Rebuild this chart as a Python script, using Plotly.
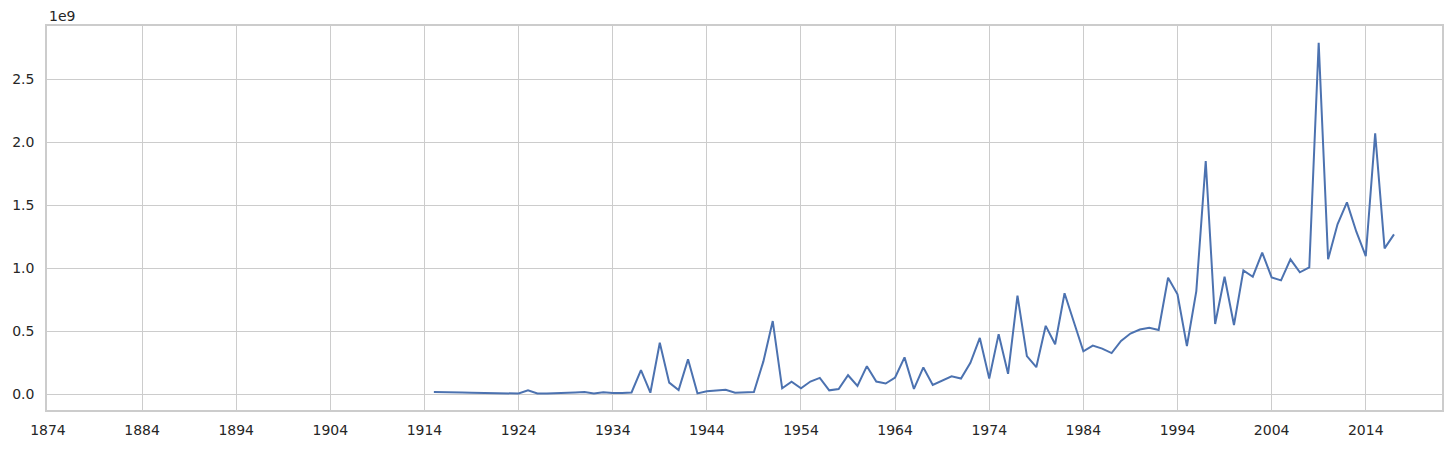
import plotly.graph_objects as go

years = list(range(1915, 2018))
values_e9 = [
    0.015, 0.012, 0.012, 0.011, 0.009, 0.007, 0.005, 0.003, 0.003, 0.004,  # 1915-1924
    0.030, 0.004, 0.004, 0.005, 0.008, 0.012, 0.015, 0.005, 0.013, 0.007,  # 1925-1934
    0.008, 0.012, 0.190, 0.010, 0.407, 0.090, 0.032, 0.275, 0.005, 0.022,  # 1935-1944
    0.028, 0.033, 0.010, 0.012, 0.015, 0.257, 0.579, 0.045, 0.098, 0.045,  # 1945-1954
    0.099, 0.128, 0.029, 0.040, 0.149, 0.064, 0.221, 0.099, 0.083, 0.131,  # 1955-1964
    0.291, 0.040, 0.211, 0.072, 0.104, 0.141, 0.123, 0.248, 0.445, 0.123,  # 1965-1974
    0.475, 0.160, 0.781, 0.301, 0.213, 0.541, 0.395, 0.800, 0.570, 0.339,  # 1975-1984
    0.384, 0.360, 0.325, 0.421, 0.480, 0.512, 0.526, 0.508, 0.923, 0.791,  # 1985-1994
    0.381, 0.817, 1.849, 0.556, 0.931, 0.548, 0.981, 0.931, 1.122, 0.926,  # 1995-2004
    0.902, 1.069, 0.966, 1.005, 2.788, 1.069, 1.347, 1.521, 1.288, 1.095,  # 2005-2014
    2.069, 1.156, 1.267,                                                   # 2015-2017
]
values = [v * 1e9 for v in values_e9]

x_ticks = list(range(1874, 2015, 10))
y_tick_vals = [0, 0.5e9, 1.0e9, 1.5e9, 2.0e9, 2.5e9]
y_tick_text = ["0.0", "0.5", "1.0", "1.5", "2.0", "2.5"]

fig = go.Figure()
fig.add_trace(go.Scatter(
    x=years, y=values, mode="lines",
    line=dict(color="#4c72b0", width=2),
    hoverinfo="x+y", showlegend=False,
))

grid = "#cccccc"
font = dict(family="DejaVu Sans", size=14, color="#262626")

fig.update_layout(
    width=1452, height=449,
    margin=dict(l=47, r=10, t=26, b=39, autoexpand=False),
    paper_bgcolor="white", plot_bgcolor="white",
    font=font,
    xaxis=dict(
        range=[1873.9, 2022.1], tickvals=x_ticks,
        ticktext=[str(t) for t in x_ticks],
        showgrid=True, gridcolor=grid, gridwidth=1.2,
        showline=True, linecolor=grid, linewidth=1.5, mirror=True,
        zeroline=False, ticks="", ticklabelstandoff=6, automargin=False,
    ),
    yaxis=dict(
        range=[-0.127e9, 2.921e9], tickvals=y_tick_vals, ticktext=y_tick_text,
        showgrid=True, gridcolor=grid, gridwidth=1.2,
        showline=True, linecolor=grid, linewidth=1.5, mirror=True,
        zeroline=False, ticks="", ticklabelstandoff=8, automargin=False,
    ),
    annotations=[dict(
        text="1e9", xref="paper", yref="paper", x=0, y=1,
        xanchor="left", yanchor="bottom", yshift=0, showarrow=False,
        font=font,
    )],
)

fig.write_html(
    "out.html",
    config={"displayModeBar": False},
    post_script="document.body.style.margin='0';document.body.style.overflow='hidden';",
)
